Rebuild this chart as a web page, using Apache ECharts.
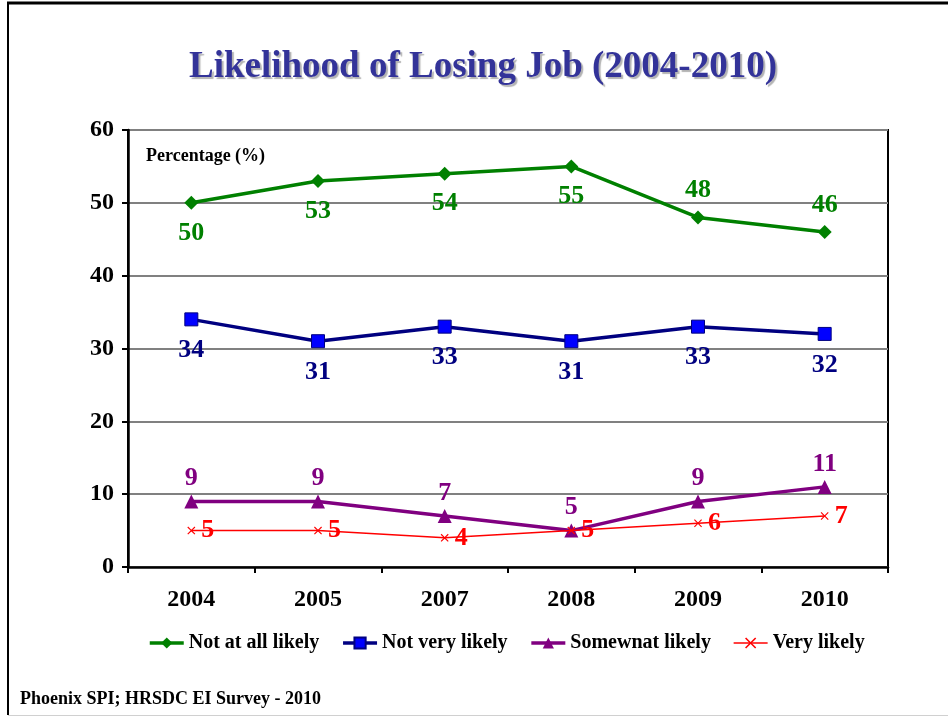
<!DOCTYPE html>
<html>
<head>
<meta charset="utf-8">
<script src="https://cdn.jsdelivr.net/npm/echarts@6/dist/echarts.min.js"></script>
<style>
  html, body { margin: 0; padding: 0; background: #fff; }
  #chart { width: 948px; height: 717px; }
</style>
</head>
<body>
<div id="chart"></div>
<script>
// Survey years and the share of respondents (%) in each answer group
const years = ['2004', '2005', '2007', '2008', '2009', '2010'];
const notAtAllLikely = [50, 53, 54, 55, 48, 46];
const notVeryLikely = [34, 31, 33, 31, 33, 32];
const somewhatLikely = [9, 9, 7, 5, 9, 11];
const veryLikely = [5, 5, 4, 5, 6, 7];
const yTicks = [0, 10, 20, 30, 40, 50, 60];

// Where each value label sits relative to its point
const notAtAllPos = ['bottom', 'bottom', 'bottom', 'bottom', 'top', 'top'];
const notAtAllDist = [10, 10, 10, 10, 7, 7];

const SERIF = '"Liberation Serif", "Times New Roman", serif';

const crossPath = 'path://M0,1L1,0L5,4L9,0L10,1L6,5L10,9L9,10L5,6L1,10L0,9L4,5Z';

function labelled(values, positions, distances) {
  return values.map((v, i) => ({
    value: v,
    label: { position: positions[i], distance: distances[i] }
  }));
}

const chart = echarts.init(document.getElementById('chart'), null, { renderer: 'canvas' });

chart.setOption({
  animation: false,
  backgroundColor: '#ffffff',
  title: {
    text: 'Likelihood of Losing Job (2004-2010)',
    left: 184,
    top: 44,
    textStyle: {
      fontFamily: SERIF,
      fontWeight: 'bold',
      fontSize: 37,
      color: '#333399',
      textShadowColor: 'rgba(0,0,0,0.3)',
      textShadowOffsetX: 2,
      textShadowOffsetY: 2,
      textShadowBlur: 1
    }
  },
  legend: {
    bottom: 59,
    left: 143,
    itemWidth: 34,
    itemHeight: 14,
    itemGap: 22,
    textStyle: { fontFamily: 'Liberation Serif', fontWeight: 'bold', fontSize: 20, color: '#000' },
    data: [
      { name: 'Not at all likely', lineStyle: { width: 3.5 } },
      { name: 'Not very likely', lineStyle: { width: 3.5 } },
      { name: 'Somewnat likely', lineStyle: { width: 3.5 } },
      { name: 'Very likely', lineStyle: { width: 1.5 } }
    ]
  },
  grid: {
    left: 128, right: 60, top: 130, bottom: 150,
    show: true, borderColor: '#000', borderWidth: 2, backgroundColor: 'transparent'
  },
  xAxis: {
    type: 'category',
    data: years,
    boundaryGap: true,
    axisLine: { lineStyle: { color: '#000', width: 2.5 } },
    axisTick: { show: true, length: 6, lineStyle: { color: '#000', width: 2 } },
    axisLabel: {
      margin: 21,
      fontFamily: SERIF, fontWeight: 'bold', fontSize: 24, color: '#000'
    },
    splitLine: { show: false }
  },
  yAxis: {
    type: 'value',
    min: yTicks[0],
    max: yTicks[yTicks.length - 1],
    interval: 10,
    axisLine: { show: true, lineStyle: { color: '#000', width: 2.5 } },
    axisTick: { show: true, length: 6, lineStyle: { color: '#000', width: 2 } },
    axisLabel: {
      margin: 14,
      fontFamily: SERIF, fontWeight: 'bold', fontSize: 24, color: '#000'
    },
    splitLine: { show: true, lineStyle: { color: '#808080', width: 2 } }
  },
  graphic: [
    { type: 'line', shape: { x1: 7, y1: 3, x2: 948, y2: 3 }, style: { stroke: '#000', lineWidth: 3 } },
    { type: 'line', shape: { x1: 8, y1: 2, x2: 8, y2: 715 }, style: { stroke: '#000', lineWidth: 2 } },
    { type: 'line', shape: { x1: 8, y1: 715.5, x2: 948, y2: 715.5 }, style: { stroke: '#d0d0d0', lineWidth: 1 } },
    {
      type: 'text', left: 146, top: 147,
      style: { text: 'Percentage (%)', font: 'bold 18px ' + SERIF, fill: '#000' }
    },
    {
      type: 'text', left: 20, top: 690,
      style: { text: 'Phoenix SPI; HRSDC EI Survey - 2010', font: 'bold 18px ' + SERIF, fill: '#000' }
    }
  ],
  series: [
    {
      name: 'Not at all likely',
      type: 'line',
      data: labelled(notAtAllLikely, notAtAllPos, notAtAllDist),
      symbol: 'diamond',
      symbolSize: 14,
      lineStyle: { color: '#008000', width: 3.5 },
      itemStyle: { color: '#008000' },
      label: {
        show: true,
        fontFamily: SERIF, fontWeight: 'bold', fontSize: 26, color: '#008000'
      },
      z: 4
    },
    {
      name: 'Not very likely',
      type: 'line',
      data: notVeryLikely,
      symbol: 'rect',
      symbolSize: 13,
      lineStyle: { color: '#000080', width: 3.5 },
      itemStyle: { color: '#0000ff', borderColor: '#000080', borderWidth: 1 },
      label: {
        show: true, position: 'bottom', distance: 11,
        fontFamily: SERIF, fontWeight: 'bold', fontSize: 26, color: '#000080'
      },
      z: 4
    },
    {
      name: 'Somewnat likely',
      type: 'line',
      data: somewhatLikely,
      symbol: 'triangle',
      symbolSize: 14,
      lineStyle: { color: '#800080', width: 3.5 },
      itemStyle: { color: '#800080' },
      label: {
        show: true, position: 'top', distance: 3,
        fontFamily: SERIF, fontWeight: 'bold', fontSize: 26, color: '#800080'
      },
      z: 3
    },
    {
      name: 'Very likely',
      type: 'line',
      data: veryLikely,
      symbol: crossPath,
      symbolSize: 8,
      lineStyle: { color: '#ff0000', width: 1.5 },
      itemStyle: { color: '#ff0000' },
      label: {
        show: true, position: 'right', distance: 6,
        fontFamily: SERIF, fontWeight: 'bold', fontSize: 26, color: '#ff0000'
      },
      z: 5
    }
  ]
});
</script>
</body>
</html>
